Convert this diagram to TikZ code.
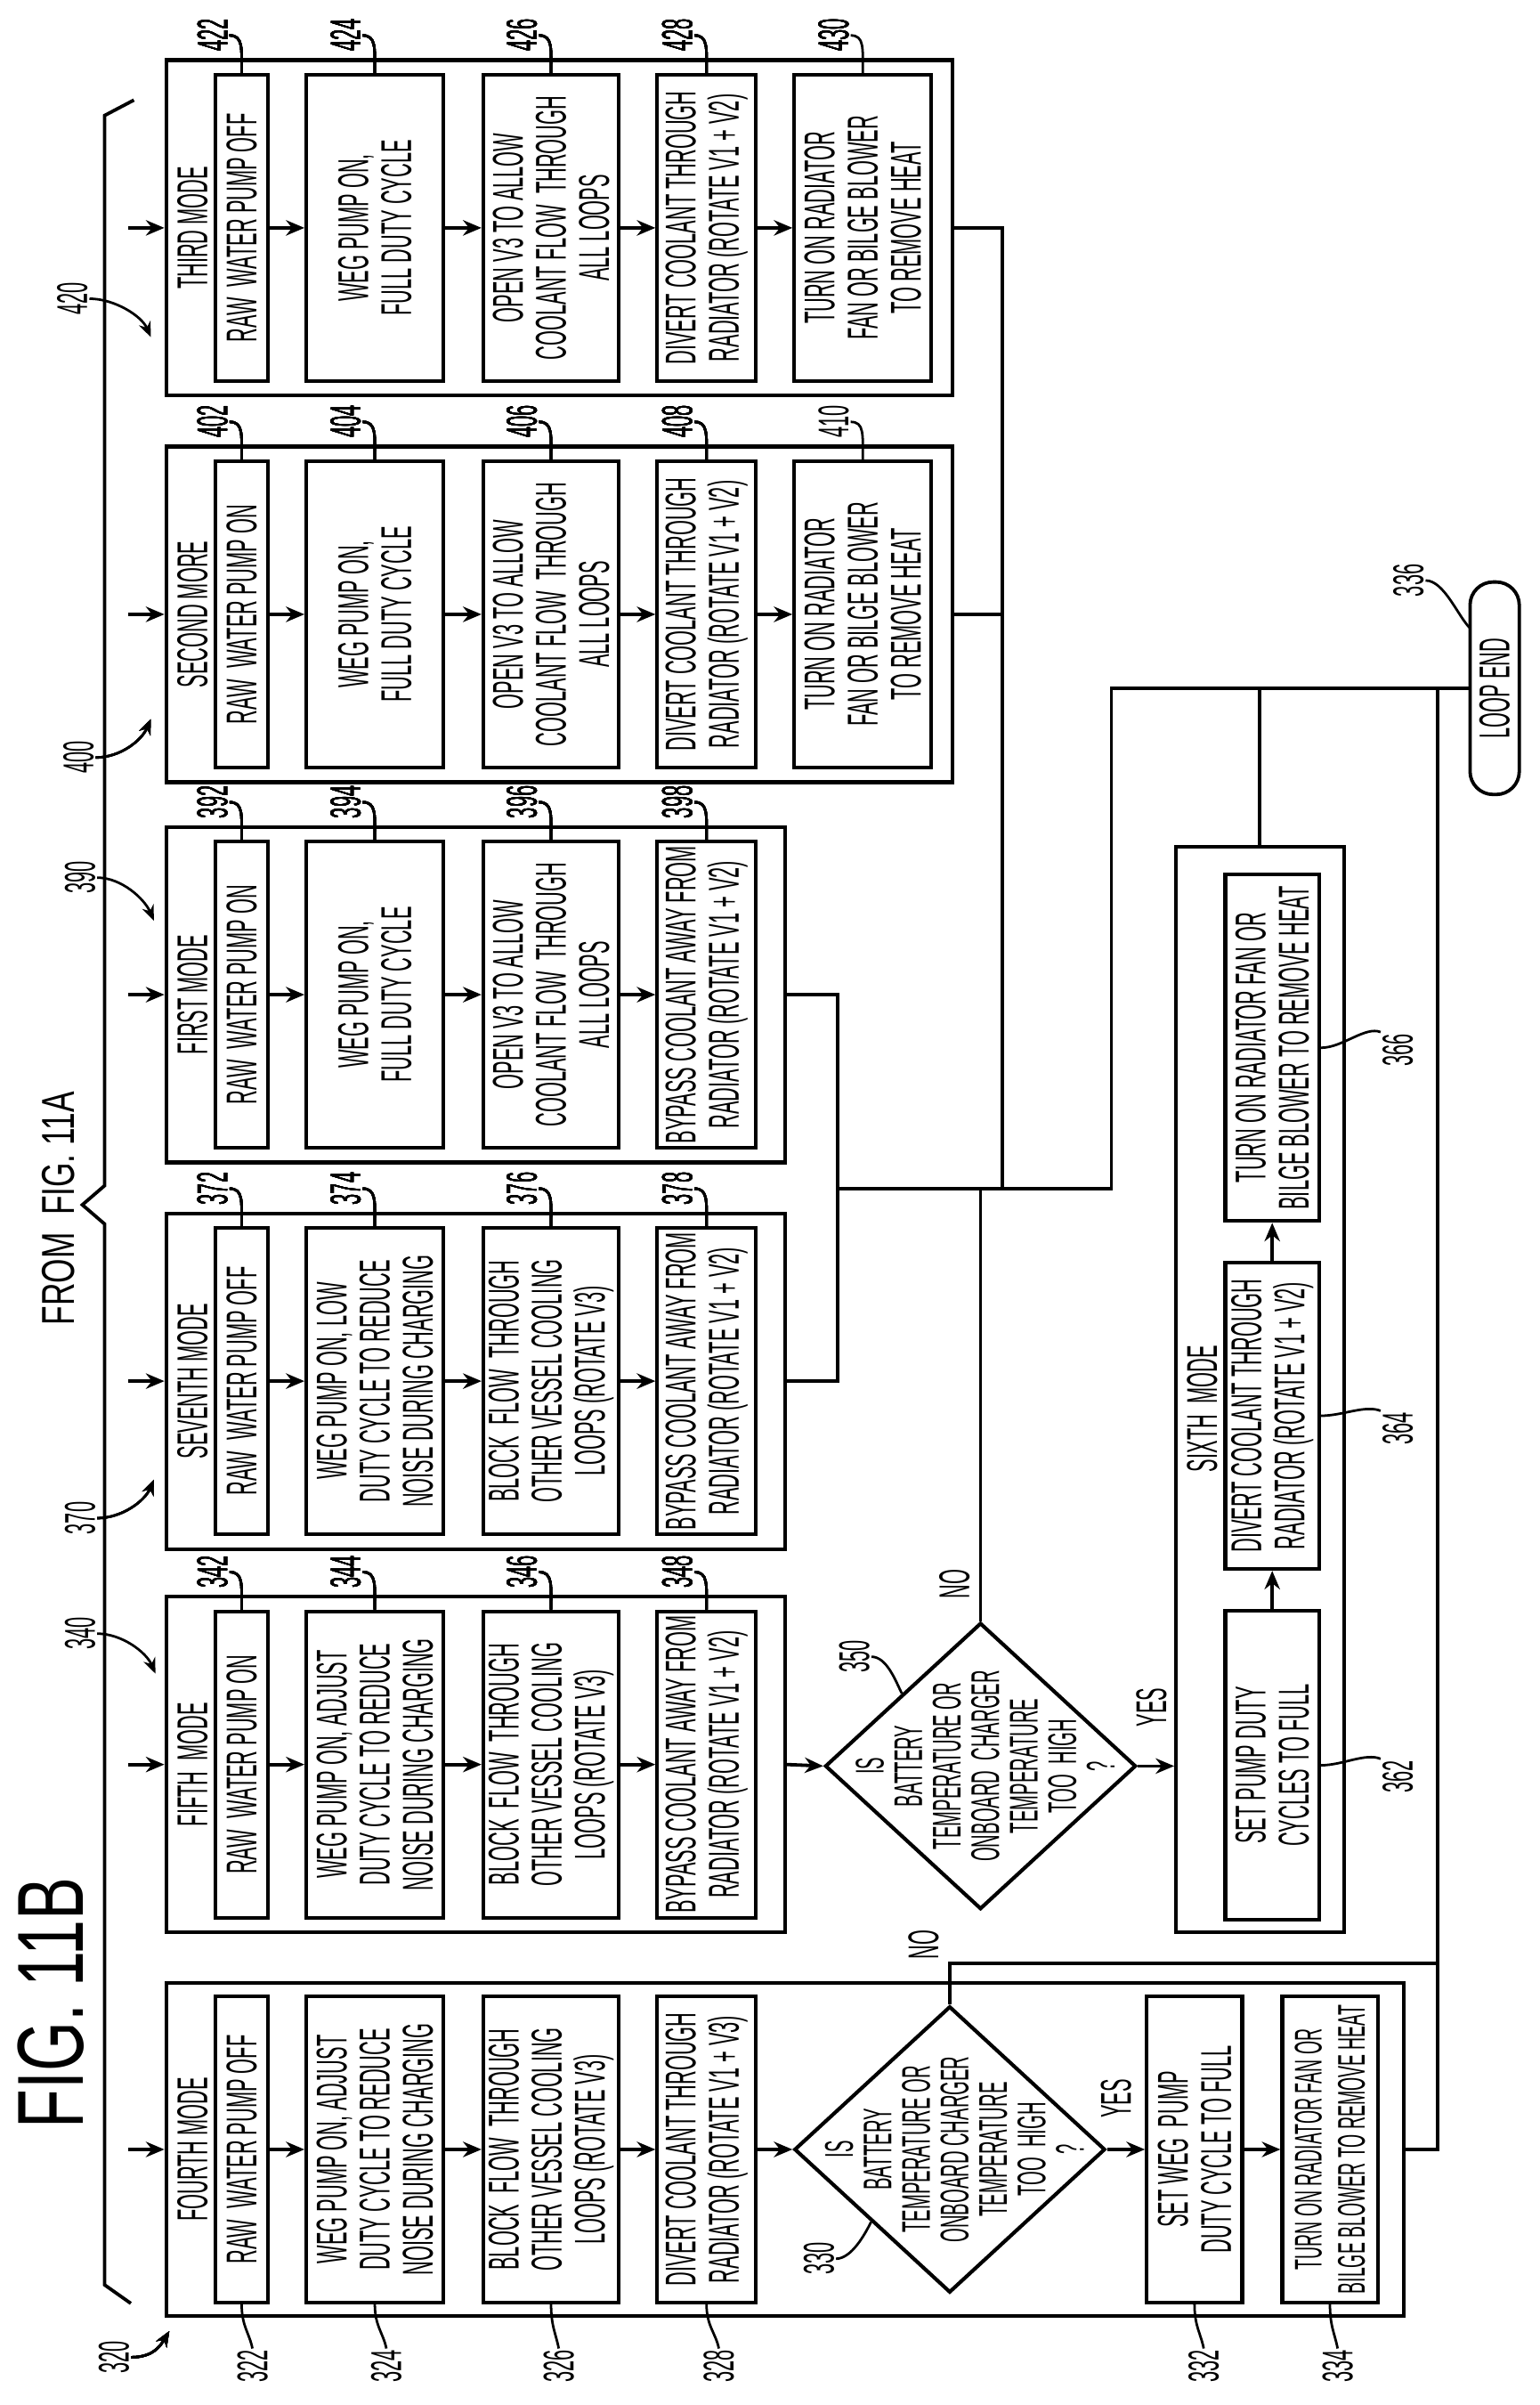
\documentclass[tikz,border=0pt]{standalone}
\usepackage{fontspec}
\newfontfamily\pat{Liberation Sans}[FakeStretch=0.45]
\newfontfamily\figf{Liberation Sans}[FakeStretch=0.68]
\usetikzlibrary{positioning,calc,shapes.geometric,arrows.meta}
\newcommand{\leadline}[5][]{\draw[ldr,#1] (#2) .. controls ($(#2)+(#4)$) and ($(#3)+(#5)$) .. (#3);}
\begin{document}
\begin{tikzpicture}[x=1pt,y=-1pt,
			txt/.style={rotate=90,align=center,inner sep=0,font=\pat\fontsize{28pt}{28pt}\selectfont},
			box/.style={txt,draw,line width=2.4pt,minimum width=199pt},
			grp/.style={draw,line width=2.4pt,inner sep=0},
			num/.style={rotate=90,inner sep=1pt,font=\pat\fontsize{28pt}{28pt}\selectfont},
			dia/.style={diamond,draw,line width=2.4pt,inner sep=0,minimum width=202pt,minimum height=186pt},
			dtxt/.style={txt,font=\pat\fontsize{26pt}{25pt}\selectfont},
			ln/.style={line width=2.2pt},
			arr/.style={line width=2.2pt,-{Stealth[length=12pt,width=10pt]}},
			ldr/.style={line width=1.6pt}
		]
		\useasboundingbox (0,0) rectangle (1000,1562);
		% headings and brace
		\node[rotate=90,inner sep=0,font=\figf\fontsize{61pt}{61pt}\selectfont] (fig) at (33,1301) {FIG. 11B};
		\node[rotate=90,inner sep=0,font=\figf\fontsize{30pt}{30pt}\selectfont] (from) at (38,785) {FROM\ \ FIG. 11A};
		\draw[ln] (87,65) -- (68,75) -- (68,770) -- (53.5,782.5) -- (68,795) -- (68,1484) -- (85,1496);
		% third mode
		\node[grp,minimum width=511pt,minimum height=218pt] (g420) at (363.5,148) {};
		\node[txt] (t420) at (125,148) {THIRD MODE};
		\node[box,minimum height=34pt] (s422) at (157,148) {RAW\ \ WATER PUMP OFF};
		\node[box,minimum height=89pt] (s424) at (243.5,148) {WEG PUMP ON,\\FULL DUTY CYCLE};
		\node[box,minimum height=88pt] (s426) at (358,148) {OPEN V3 TO ALLOW\\COOLANT FLOW\ \ THROUGH\\ALL LOOPS};
		\node[box,minimum height=64pt] (s428) at (459,148) {DIVERT COOLANT THROUGH\\RADIATOR (ROTATE V1 + V2)};
		\node[box,minimum height=89pt] (s430) at (560.5,148) {TURN ON RADIATOR\\FAN OR BILGE BLOWER\\TO REMOVE HEAT};
		% second mode
		\node[grp,minimum width=511pt,minimum height=218pt] (g400) at (363.5,399) {};
		\node[txt] (t400) at (125,399) {SECOND MORE};
		\node[box,minimum height=34pt] (s402) at (157,399) {RAW\ \ WATER PUMP ON};
		\node[box,minimum height=89pt] (s404) at (243.5,399) {WEG PUMP ON,\\FULL DUTY CYCLE};
		\node[box,minimum height=88pt] (s406) at (358,399) {OPEN V3 TO ALLOW\\COOLANT FLOW\ \ THROUGH\\ALL LOOPS};
		\node[box,minimum height=64pt] (s408) at (459,399) {DIVERT COOLANT THROUGH\\RADIATOR (ROTATE V1 + V2)};
		\node[box,minimum height=89pt] (s410) at (560.5,399) {TURN ON RADIATOR\\FAN OR BILGE BLOWER\\TO REMOVE HEAT};
		% first mode
		\node[grp,minimum width=402pt,minimum height=218pt] (g390) at (309,646) {};
		\node[txt] (t390) at (125,646) {FIRST MODE};
		\node[box,minimum height=34pt] (s392) at (157,646) {RAW\ \ WATER PUMP ON};
		\node[box,minimum height=89pt] (s394) at (243.5,646) {WEG PUMP ON,\\FULL DUTY CYCLE};
		\node[box,minimum height=88pt] (s396) at (358,646) {OPEN V3 TO ALLOW\\COOLANT FLOW\ \ THROUGH\\ALL LOOPS};
		\node[box,minimum height=64pt] (s398) at (459,646) {BYPASS COOLANT AWAY FROM\\RADIATOR (ROTATE V1 + V2)};
		% seventh mode
		\node[grp,minimum width=402pt,minimum height=218pt] (g370) at (309,897) {};
		\node[txt] (t370) at (125,897) {SEVENTH MODE};
		\node[box,minimum height=34pt] (s372) at (157,897) {RAW\ \ WATER PUMP OFF};
		\node[box,minimum height=89pt] (s374) at (243.5,897) {WEG PUMP ON, LOW\\DUTY CYCLE TO REDUCE\\NOISE DURING CHARGING};
		\node[box,minimum height=88pt] (s376) at (358,897) {BLOCK\ \ FLOW\ \ THROUGH\\OTHER VESSEL COOLING\\LOOPS (ROTATE V3)};
		\node[box,minimum height=64pt] (s378) at (459,897) {BYPASS COOLANT AWAY FROM\\RADIATOR (ROTATE V1 + V2)};
		% fifth mode
		\node[grp,minimum width=402pt,minimum height=218pt] (g340) at (309,1146) {};
		\node[txt] (t340) at (125,1146) {FIFTH\ \ MODE};
		\node[box,minimum height=34pt] (s342) at (157,1146) {RAW\ \ WATER PUMP ON};
		\node[box,minimum height=89pt] (s344) at (243.5,1146) {WEG PUMP ON, ADJUST\\DUTY CYCLE TO REDUCE\\NOISE DURING CHARGING};
		\node[box,minimum height=88pt] (s346) at (358,1146) {BLOCK\ \ FLOW\ \ THROUGH\\OTHER VESSEL COOLING\\LOOPS (ROTATE V3)};
		\node[box,minimum height=64pt] (s348) at (459,1146) {BYPASS COOLANT AWAY FROM\\RADIATOR (ROTATE V1 + V2)};
		\node[dia] (d350) at (637,1147) {};
		\node[dtxt] (q350) at (640,1147) {IS\\BATTERY\\TEMPERATURE OR\\ONBOARD\ \ CHARGER\\TEMPERATURE\\TOO\ \ HIGH\\?};
		% sixth mode
		\node[grp,minimum width=109pt,minimum height=705pt] (g6) at (818.5,902.5) {};
		\node[txt] (t6) at (781,915) {SIXTH\ \ MODE};
		\node[box,minimum width=201pt,minimum height=61pt] (s362) at (826.5,1146.5) {SET PUMP DUTY\\CYCLES TO FULL};
		\node[box,minimum height=61pt] (s364) at (826.5,919.5) {DIVERT COOLANT THROUGH\\RADIATOR (ROTATE V1 + V2)};
		\node[box,minimum width=225pt,minimum height=61pt] (s366) at (826.5,680.5) {TURN ON RADIATOR FAN OR\\BILGE BLOWER TO REMOVE HEAT};
		% fourth mode
		\node[grp,minimum width=804pt,minimum height=216pt] (g320) at (510,1396) {};
		\node[txt] (t320) at (125,1396) {FOURTH MODE};
		\node[box,minimum height=34pt] (s322) at (157,1396) {RAW\ \ WATER PUMP OFF};
		\node[box,minimum height=89pt] (s324) at (243.5,1396) {WEG PUMP ON, ADJUST\\DUTY CYCLE TO REDUCE\\NOISE DURING CHARGING};
		\node[box,minimum height=88pt] (s326) at (358,1396) {BLOCK\ \ FLOW\ \ THROUGH\\OTHER VESSEL COOLING\\LOOPS (ROTATE V3)};
		\node[box,minimum height=64pt] (s328) at (459,1396) {DIVERT COOLANT THROUGH\\RADIATOR (ROTATE V1 + V3)};
		\node[dia] (d330) at (617,1396) {};
		\node[dtxt] (q330) at (620,1396) {IS\\BATTERY\\TEMPERATURE OR\\ONBOARD CHARGER\\TEMPERATURE\\TOO\ \ HIGH\\?};
		\node[box,minimum height=62pt] (s332) at (776,1396) {SET WEG\ \ PUMP\\DUTY CYCLE TO FULL};
		\node[box,minimum height=62pt,font=\pat\fontsize{25pt}{28pt}\selectfont] (s334) at (864,1396) {TURN ON RADIATOR FAN OR\\BILGE BLOWER TO REMOVE HEAT};
		% loop end
		\node[txt,draw,line width=2.2pt,rounded corners=15pt,minimum width=138pt,minimum height=32pt] (le) at (971,447) {LOOP END};
		% decision labels
		\node[txt] (no350) at (620,1029) {NO};
		\node[txt] (yes350) at (748,1109) {YES};
		\node[txt] (no330) at (600,1263) {NO};
		\node[txt] (yes330) at (725,1363) {YES};
		% flow arrows
		\foreach \g/\y in {420/148,400/399,390/646,370/897,340/1146,320/1396}{
			\coordinate (b\g) at (83,\y);
			\draw[arr] (b\g) -- (g\g.west);
		}
		\foreach \a/\b in {s422/s424,s424/s426,s426/s428,s428/s430,
			s402/s404,s404/s406,s406/s408,s408/s410,
			s392/s394,s394/s396,s396/s398,
			s372/s374,s374/s376,s376/s378,
			s342/s344,s344/s346,s346/s348,
			s322/s324,s324/s326,s326/s328,s328/d330,d330/s332,s332/s334,
			s362/s364,s364/s366}
			\draw[arr] (\a) -- (\b);
		\draw[arr] (g340.east) -- (d350.west);
		\draw[arr] (d350.east) -- (d350.east -| g6.west);
		% joining lines
		\coordinate (j651) at (651,772);
		\coordinate (j544) at (544,772);
		\coordinate (j722) at (722,772);
		\coordinate (k722) at (722,447);
		\coordinate (k934) at (934,447);
		\coordinate (j934) at (934,1275);
		\draw[ln] (g420.east) -| (j651);
		\draw[ln] (g400.east) -- (g400.east -| j651);
		\draw[ln] (g390.east) -| (j544);
		\draw[ln] (g370.east) -| (j544);
		\draw[ln] (j544) -- (j722) -- (k722) -- (le.north);
		\draw[ln] (d350.north) -- (d350.north |- j544);
		\draw[ln] (g6.north) -- (g6.north |- k722);
		\draw[ln] (d330.north) |- (j934);
		\draw[ln] (g320.east) -| (k934);
		% group reference numerals
		\node[num] (n420) at (47,194) {420};
		\node[num] (n400) at (51,492) {400};
		\node[num] (n390) at (52,570) {390};
		\node[num] (n370) at (52,986) {370};
		\node[num] (n340) at (52,1061) {340};
		\node[num] (n320) at (74,1531) {320};
		\coordinate (p420) at (98,219);
		\coordinate (p400) at (98,467);
		\coordinate (p390) at (100,598);
		\coordinate (p370) at (100,961);
		\coordinate (p340) at (101,1087);
		\coordinate (p320) at (110,1514);
		\foreach \g in {420,390,340}
			\leadline[-{Stealth[length=10pt,width=8pt]}]{n\g.south}{p\g}{16,0}{-6,-14}
		\foreach \g in {400,370}
			\leadline[-{Stealth[length=10pt,width=8pt]}]{n\g.south}{p\g}{16,0}{-6,14}
		\leadline[-{Stealth[length=10pt,width=8pt]}]{n320.south}{p320}{14,0}{-6,10}
		% box reference numerals, top row
		\foreach \y/\a/\b/\c/\d in {23/422/424/426/428,274/402/404/406/408,521/392/394/396/398,772/372/374/376/378,1021/342/344/346/348}{
			\node[num] (n\a) at (138,\y) {\a};
			\node[num] (n\b) at (224.5,\y) {\b};
			\node[num] (n\c) at (339,\y) {\c};
			\node[num] (n\d) at (440,\y) {\d};
			\leadline{n\a.south}{s\a.east}{9,0}{0,-16}
			\leadline{n\b.south}{s\b.east}{9,0}{0,-16}
			\leadline{n\c.south}{s\c.east}{9,0}{0,-16}
			\leadline{n\d.south}{s\d.east}{9,0}{0,-16}
		}
		\node[num] (n430) at (541.5,23) {430};
		\node[num] (n410) at (541.5,274) {410};
		\leadline{n430.south}{s430.east}{9,0}{0,-16}
		\leadline{n410.south}{s410.east}{9,0}{0,-16}
		% box reference numerals, fourth mode
		\foreach \s/\x in {322/164,324/251,326/363,328/467,332/782,334/869}{
			\node[num] (n\s) at (\x,1537) {\s};
			\leadline{s\s.west}{n\s.east}{0,14}{-2,-10}
		}
		% sixth mode numerals
		\foreach \s/\y in {362/1154,364/928,366/682}{
			\node[num] (n\s) at (908,\y) {\s};
			\leadline{s\s.south}{n\s.north east}{14,0}{-10,-4}
		}
		\node[num] (n350) at (555,1076) {350};
		\leadline{n350.south}{d350.north west}{10,0}{-4,-8}
		\node[num] (n330) at (532,1467) {330};
		\leadline{n330.south}{d330.south west}{10,0}{-4,8}
		\node[num] (n336) at (915,377) {336};
		\coordinate (p336) at (955,408);
		\leadline{n336.south}{p336}{12,0}{-8,-8}
	\end{tikzpicture}
\end{document}
